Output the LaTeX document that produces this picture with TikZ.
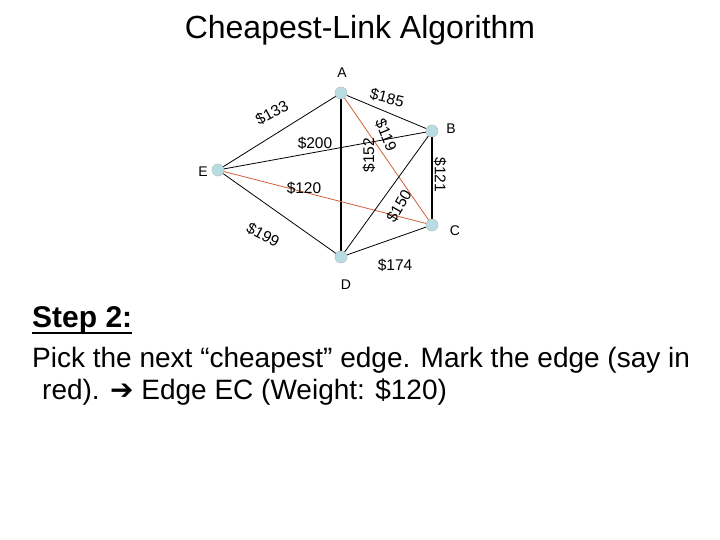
\documentclass[tikz,border=0pt]{standalone}
\usepackage{fontspec}
\setmainfont{Liberation Sans}
\newfontfamily\djv{DejaVu Sans}
\definecolor{vfill}{HTML}{B7DDE3}
\definecolor{redc}{HTML}{D0603A}
\begin{document}
\begin{tikzpicture}[x=1pt,y=-1pt,
  vtx/.style={circle,fill=vfill,draw=gray!50,minimum size=12pt,inner sep=0pt},
  edge/.style={black,line width=0.8pt},
  redge/.style={redc,line width=0.8pt},
  wlab/.style={font=\fontsize{15.5}{15.5}\selectfont,inner sep=1pt},
  vlab/.style={font=\fontsize{14}{14}\selectfont}]
\useasboundingbox (0,0) rectangle (720,540);
\node (title) at (360,30) {\fontsize{32}{32}\selectfont Cheapest-Link Algorithm};
\node[vtx] (A) at (341,93) {};
\node[vtx] (B) at (432,131) {};
\node[vtx] (E) at (218,170) {};
\node[vtx] (C) at (432,225) {};
\node[vtx] (D) at (341,257) {};
\node[vlab] (la) at (342,73) {A};
\node[vlab] (lb) at (451,129) {B};
\node[vlab] (le) at (203,172) {E};
\node[vlab] (lc) at (455,231) {C};
\node[vlab] (ld) at (346,285) {D};
\draw[edge] (A) -- (E);
\draw[edge] (A) -- (B);
\draw[edge,line width=1.2pt] (A) -- (D);
\draw[redge] (A) -- (C);
\draw[edge] (E) -- (B);
\draw[edge] (E) -- (D);
\draw[redge] (E) -- (C);
\draw[edge,line width=1.2pt] (B) -- (C);
\draw[edge] (B) -- (D);
\draw[edge] (C) -- (D);
\node[vtx] at (A) {};\node[vtx] at (B) {};\node[vtx] at (C) {};\node[vtx] at (D) {};\node[vtx] at (E) {};
\node[wlab,rotate=28] (w1) at (272,113) {\$133};
\node[wlab,rotate=-14] (w2) at (387,98) {\$185};
\node[wlab] (w3) at (315,143) {\$200};
\node[wlab,rotate=90] (w4) at (369,155) {\$152};
\node[wlab,rotate=-68] (w5) at (386,135) {\$119};
\node[wlab,rotate=-90] (w6) at (440,175) {\$121};
\node[wlab] (w7) at (304,188) {\$120};
\node[wlab,rotate=60] (w8) at (399,206) {\$150};
\node[wlab,rotate=-28] (w9) at (263,235) {\$199};
\node[wlab] (w10) at (395,265) {\$174};
\node[anchor=west,inner sep=0pt] (step) at (32,320) {\fontsize{30}{30}\selectfont\bfseries Step 2:};
\draw[line width=1.8pt] (step.south west) ++(0,-1) -- ([yshift=1pt]step.south east);
\node[anchor=west,inner sep=0pt] (l1) at (32,360) {\fontsize{28}{28}\selectfont Pick the next “cheapest” edge. Mark the edge (say in};
\node[anchor=west,inner sep=0pt] (l2) at (42,392) {\fontsize{28}{28}\selectfont red). {\djv ➔} Edge EC (Weight: \$120)};
\end{tikzpicture}
\end{document}
